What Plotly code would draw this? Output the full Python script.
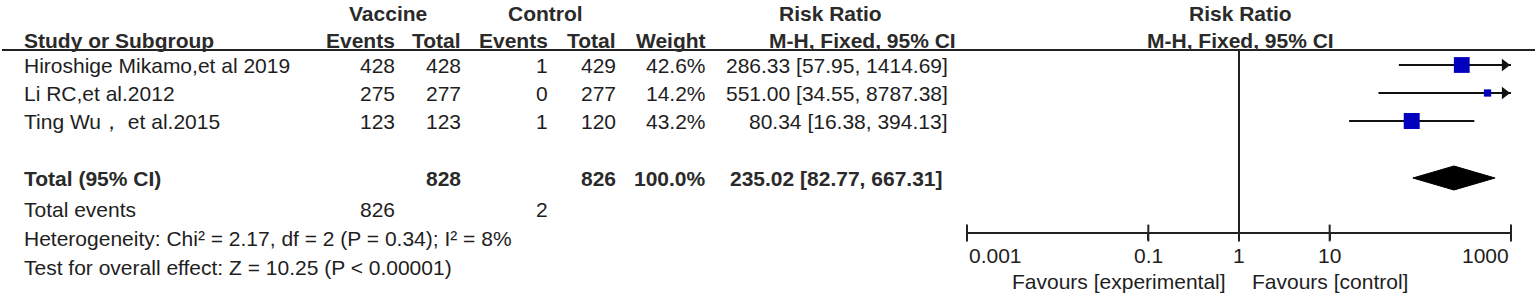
import math
import plotly.graph_objects as go

# ---------------- data ----------------
studies = ["Hiroshige Mikamo,et al 2019", "Li RC,et al.2012", "Ting Wu， et al.2015"]
vacc_events = [428, 275, 123]
vacc_total = [428, 277, 123]
ctrl_events = [1, 0, 1]
ctrl_total = [429, 277, 120]
weights = [42.6, 14.2, 43.2]
rr = [286.33, 551.00, 80.34]
ci_low = [57.95, 34.55, 16.38]
ci_high = [1414.69, 8787.38, 394.13]

total_vacc = 828
total_ctrl = 826
total_weight = 100.0
total_rr = 235.02
total_low = 82.77
total_high = 667.31
events_vacc = 826
events_ctrl = 2
heterogeneity = "Heterogeneity: Chi² = 2.17, df = 2 (P = 0.34); I² = 8%"
overall = "Test for overall effect: Z = 10.25 (P < 0.00001)"

tick_vals = [0.001, 0.1, 1, 10, 1000]
tick_text = ["0.001", "0.1", "1", "10", "1000"]
axis_min, axis_max = 0.001, 1000
null_value = 1

# ---------------- layout constants (pixels) ----------------
W, H = 1535, 296
FONT = "Liberation Sans, Arial, sans-serif"
FS = 21
TXT = "#1e1e1e"
BOLD = "#2a2a2a"
BLUE = "#0000BE"

y_h1, y_h2, y_line = 13, 40, 50
row_y = [65, 93, 121]
y_total, y_events, y_het, y_test = 178, 209, 238, 267
y_axis = 233
y_ticklab, y_fav = 255, 281

x_study = 22
x_ve, x_vt, x_ce, x_ct, x_w, x_ci = 397, 463, 550, 618, 708, 950
plot_x0, plot_x1 = 967, 1511

# pixels per decade of the log axis (used to keep the arrow tip on the axis end)
px_per_decade = (plot_x1 - plot_x0) / (math.log10(axis_max) - math.log10(axis_min))
ARROW_SIZE = 11
arrow_tip_px = (ARROW_SIZE / 2) * 2 / math.sqrt(3)
arrow_x = 10 ** (math.log10(axis_max) - arrow_tip_px / px_per_decade)

fig = go.Figure()

# CI lines (clipped at axis max, with arrow)
for i in range(len(studies)):
    hi = min(ci_high[i], axis_max)
    fig.add_trace(go.Scatter(x=[ci_low[i], hi], y=[row_y[i], row_y[i]], mode="lines",
                             line=dict(color="#111111", width=2), hoverinfo="skip",
                             showlegend=False, cliponaxis=False))
    if ci_high[i] > axis_max:
        fig.add_trace(go.Scatter(x=[arrow_x], y=[row_y[i]], mode="markers",
                                 marker=dict(symbol="triangle-right", size=ARROW_SIZE,
                                             color="#111111", line=dict(width=0)),
                                 hoverinfo="skip", showlegend=False, cliponaxis=False))

# squares
fig.add_trace(go.Scatter(x=rr, y=row_y, mode="markers",
                         marker=dict(symbol="square", color=BLUE, opacity=1,
                                     size=[0.3 * w + 3 for w in weights], line=dict(width=0)),
                         hoverinfo="skip", showlegend=False, cliponaxis=False))

# diamond
dh = 12
fig.add_trace(go.Scatter(x=[total_low, total_rr, total_high, total_rr, total_low],
                         y=[y_total, y_total - dh, y_total, y_total + dh, y_total],
                         mode="lines", fill="toself", fillcolor="#000000",
                         line=dict(color="#000000", width=1), hoverinfo="skip",
                         showlegend=False))

# line of no effect
fig.add_trace(go.Scatter(x=[null_value, null_value], y=[y_line, y_axis], mode="lines",
                         line=dict(color="#222222", width=2), hoverinfo="skip",
                         showlegend=False, cliponaxis=False))

# upper halves of axis ticks
fig.add_trace(go.Scatter(x=tick_vals, y=[y_axis] * len(tick_vals), mode="markers",
                         marker=dict(symbol="line-ns", size=12,
                                     line=dict(color="#222222", width=2)),
                         hoverinfo="skip", showlegend=False, cliponaxis=False))

# ---------------- text ----------------
ann = []
def t(x, y, s, anchor="left", bold=False):
    ann.append(dict(x=x / W, y=y, xref="paper", yref="y", text=f"<b>{s}</b>" if bold else s,
                    showarrow=False, xanchor=anchor, yanchor="middle",
                    font=dict(family=FONT, size=FS, color=BOLD if bold else TXT)))

# headers
t(388, y_h1, "Vaccine", "center", True)
t(545, y_h1, "Control", "center", True)
t(830, y_h1, "Risk Ratio", "center", True)
t(1240, y_h1, "Risk Ratio", "center", True)
t(x_study, y_h2, "Study or Subgroup", "left", True)
t(x_ve, y_h2, "Events", "right", True)
t(x_vt, y_h2, "Total", "right", True)
t(x_ce, y_h2, "Events", "right", True)
t(x_ct, y_h2, "Total", "right", True)
t(x_w, y_h2, "Weight", "right", True)
t(958, y_h2, "M-H, Fixed, 95% CI", "right", True)
t(1240, y_h2, "M-H, Fixed, 95% CI", "center", True)

# rows
for i, s in enumerate(studies):
    y = row_y[i]
    t(x_study, y, s)
    t(x_ve, y, str(vacc_events[i]), "right")
    t(x_vt, y, str(vacc_total[i]), "right")
    t(x_ce, y, str(ctrl_events[i]), "right")
    t(x_ct, y, str(ctrl_total[i]), "right")
    t(x_w, y, f"{weights[i]:.1f}%", "right")
    t(x_ci, y, f"{rr[i]:.2f} [{ci_low[i]:.2f}, {ci_high[i]:.2f}]", "right")

# total
t(x_study, y_total, "Total (95% CI)", "left", True)
t(x_vt, y_total, str(total_vacc), "right", True)
t(x_ct, y_total, str(total_ctrl), "right", True)
t(x_w, y_total, f"{total_weight:.1f}%", "right", True)
t(945, y_total, f"{total_rr:.2f} [{total_low:.2f}, {total_high:.2f}]", "right", True)
t(x_study, y_events, "Total events")
t(x_ve, y_events, str(events_vacc), "right")
t(x_ce, y_events, str(events_ctrl), "right")
t(x_study, y_het, heterogeneity)
t(x_study, y_test, overall)

# favours
t(1228, y_fav, "Favours [experimental]", "right")
t(1250, y_fav, "Favours [control]", "left")

# tick labels placed on the log axis scale (end labels kept inside the axis)
for i, (v, s) in enumerate(zip(tick_vals, tick_text)):
    anchor = "left" if i == 0 else ("right" if i == len(tick_vals) - 1 else "center")
    ann.append(dict(x=math.log10(v), y=y_ticklab, xref="x", yref="y", text=s,
                    showarrow=False, xanchor=anchor, yanchor="middle",
                    font=dict(family=FONT, size=FS, color=TXT)))

fig.update_layout(
    width=W, height=H, margin=dict(l=0, r=0, t=0, b=0),
    paper_bgcolor="white", plot_bgcolor="white",
    annotations=ann,
    shapes=[dict(type="line", xref="paper", yref="y", x0=2 / W, x1=1, y0=y_line, y1=y_line,
                 line=dict(color="#222222", width=2))],
    xaxis=dict(type="log", range=[-3, 3], domain=[plot_x0 / W, plot_x1 / W],
               anchor="free", position=1 - y_axis / H,
               showline=True, linecolor="#222222", linewidth=2,
               ticks="outside", ticklen=6, tickwidth=2, tickcolor="#222222",
               tickvals=tick_vals, showticklabels=False, showgrid=False, zeroline=False),
    yaxis=dict(range=[H, 0], domain=[0, 1], visible=False, showgrid=False),
    showlegend=False,
)

fig.write_html("out.html", config={"displayModeBar": False, "staticPlot": True},
               post_script="document.body.style.margin='0';document.body.style.overflow='hidden';")
